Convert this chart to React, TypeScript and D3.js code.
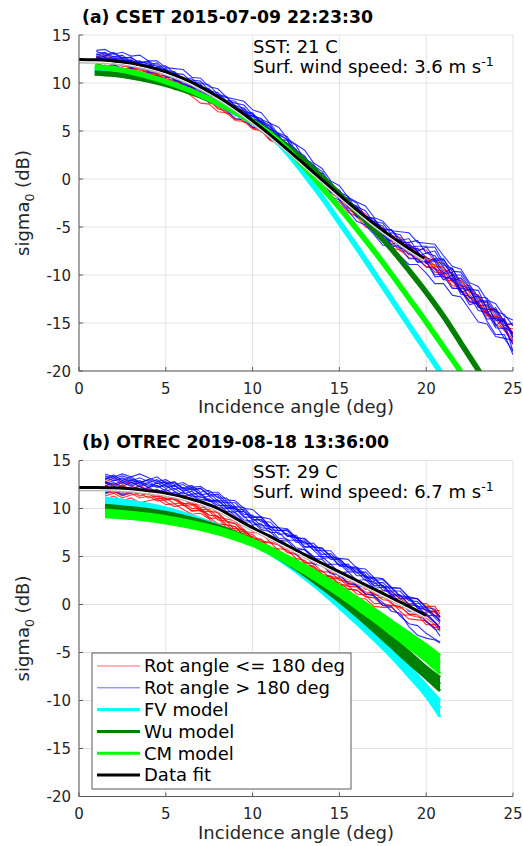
import React from 'react';
import * as d3 from 'd3';

// ---------- Panel (a) observations ----------
const ANGLE_A = [1,1.5,2,2.5,3,3.5,4,4.5,5,5.5,6,6.5,7,7.5,8,8.5,9,9.5,10,10.5,11,11.5,12,12.5,13,13.5,14,14.5,15,15.5,16,16.5,17,17.5,18,18.5,19,19.5,20,20.5,21,21.5,22,22.5,23,23.5,24,24.5,25];
const RED_A1 = [12.2,12.4,11.8,12.0,11.4,11.5,10.9,10.9,10.2,10.1,9.3,9.2,9.1,8.2,7.4,7.4,6.6,6.5,5.7,5.5,5.2,4.0,3.6,2.4,2.0,0.8,0.3,-0.9,-2.0,-2.3,-3.4,-4.5,-4.7,-5.7,-5.9,-7.0,-7.9,-7.9,-8.8,-8.9,-9.9,-11.1,-11.3,-11.6,-13.0,-14.2,-14.4,-15.5,-15.6];
const RED_A2 = [11.9,12.1,12.2,11.7,11.8,11.1,11.3,10.4,10.5,9.5,9.6,8.8,8.9,8.0,8.0,7.1,6.2,6.2,5.4,5.2,4.2,4.0,2.9,2.5,1.3,0.9,-0.3,-0.8,-1.3,-2.5,-3.0,-4.2,-5.3,-5.5,-6.5,-7.5,-7.5,-8.4,-8.4,-9.4,-10.5,-10.6,-11.8,-12.0,-13.3,-13.7,-15.2,-15.6,-17.2];
const RED_A3 = [12.5,12.0,12.4,11.9,12.0,11.3,11.5,10.7,10.8,9.9,9.8,9.6,8.7,8.5,7.6,6.8,6.8,5.9,5.9,4.9,4.6,3.5,3.0,1.7,1.2,0.6,-0.7,-1.3,-1.7,-2.9,-4.0,-4.4,-4.8,-5.9,-5.9,-6.1,-7.1,-7.3,-7.4,-8.6,-8.8,-10.0,-10.4,-11.8,-12.1,-13.5,-13.8,-15.0,-15.2];
const RED_A4 = [12.7,12.9,12.4,12.5,11.9,12.0,11.4,11.4,10.7,10.5,9.7,9.6,8.8,8.6,8.4,7.5,7.3,7.1,6.2,5.9,4.8,4.4,3.2,2.8,1.6,1.1,0.5,-0.8,-1.9,-2.3,-3.5,-4.0,-4.4,-5.5,-6.4,-6.6,-6.7,-7.7,-8.6,-8.3,-9.5,-9.8,-11.2,-11.1,-12.5,-12.9,-14.3,-14.7,-16.2];
const RED_A5 = [12.1,11.7,12.0,11.4,11.6,10.9,11.1,11.1,10.4,10.3,9.4,9.4,8.5,8.4,8.2,7.3,7.1,6.2,5.3,5.1,4.1,3.8,3.4,2.2,0.9,0.4,-0.2,-1.5,-2.0,-3.2,-3.6,-4.7,-5.0,-5.4,-6.5,-6.7,-7.5,-7.6,-8.7,-9.7,-9.8,-11.3,-11.5,-12.7,-12.8,-14.0,-14.3,-15.5,-16.8];
const RED_A6 = [11.8,11.4,11.7,11.3,10.8,11.0,10.5,10.6,10.0,9.3,9.3,8.6,7.9,7.8,7.0,6.9,6.1,6.0,5.2,5.0,4.0,3.7,2.6,2.1,0.9,0.4,-0.8,-2.0,-2.4,-3.5,-3.9,-5.0,-5.3,-6.3,-7.2,-7.4,-8.2,-8.3,-9.1,-9.2,-10.2,-10.4,-11.6,-12.8,-13.1,-14.3,-14.6,-15.8,-17.0];
const RED_A7 = [12.7,12.3,12.6,12.2,12.4,11.9,11.3,11.3,10.6,10.5,9.7,9.6,8.8,7.9,7.8,7.0,6.9,6.1,6.0,5.1,4.8,3.8,3.4,2.2,1.7,1.1,-0.2,-0.8,-2.0,-2.5,-3.0,-4.2,-4.6,-5.7,-6.0,-7.0,-7.2,-8.1,-8.1,-9.1,-9.2,-10.3,-10.6,-11.8,-12.1,-13.3,-13.6,-14.8,-16.0];
const RED_A8 = [12.3,12.5,11.9,12.1,11.5,11.6,11.0,11.0,10.3,10.2,10.0,9.2,9.1,8.2,7.3,7.1,7.0,6.2,6.1,5.8,4.8,4.5,3.4,2.9,1.7,1.2,0.0,-1.2,-1.6,-2.7,-3.1,-3.6,-4.7,-5.1,-6.1,-6.4,-7.3,-8.2,-8.3,-9.4,-9.6,-10.7,-11.1,-12.4,-12.8,-14.1,-14.5,-14.9,-16.3];
const BLUE_A1 = [12.9,13.1,12.5,12.7,12.1,12.2,11.6,11.6,11.5,10.7,10.6,9.6,9.6,9.4,8.5,7.6,7.7,6.9,6.8,5.9,4.7,4.7,4.1,2.7,2.2,0.6,0.2,-0.3,-1.6,-2.9,-2.9,-3.3,-4.6,-6.0,-5.6,-5.8,-7.1,-7.0,-7.0,-8.4,-9.8,-9.3,-10.8,-12.4,-12.2,-13.9,-13.4,-14.9,-16.2];
const BLUE_A2 = [12.7,12.4,12.8,12.3,12.3,11.6,11.8,11.9,11.0,10.9,9.9,10.0,9.9,8.9,8.0,8.1,7.2,7.3,6.1,6.0,5.6,4.2,3.7,3.1,1.4,1.0,0.5,-1.0,-1.4,-1.8,-3.3,-4.6,-4.6,-4.9,-6.4,-6.4,-6.2,-7.5,-8.8,-8.3,-8.3,-10.1,-11.8,-11.5,-11.6,-13.6,-15.3,-14.5,-16.5];
const BLUE_A3 = [13.0,12.7,12.4,12.6,12.7,12.0,11.6,11.0,11.2,11.1,10.3,10.2,9.3,8.5,8.7,8.5,7.5,6.7,6.6,6.3,5.1,4.0,3.7,2.6,2.1,1.6,0.1,-1.4,-1.7,-2.1,-3.5,-3.9,-4.1,-5.4,-6.8,-6.5,-7.5,-8.7,-8.6,-10.0,-9.9,-9.7,-11.6,-13.1,-12.8,-12.8,-15.1,-16.6,-16.8];
const BLUE_A4 = [12.6,12.8,13.1,12.5,12.0,12.1,12.2,11.4,10.6,10.6,10.5,10.5,9.6,9.3,8.4,8.2,8.1,7.1,6.3,5.3,5.2,4.8,4.4,2.9,1.6,1.3,0.0,-0.6,-2.1,-2.4,-2.8,-4.1,-5.4,-5.2,-5.3,-6.6,-6.6,-6.4,-7.7,-8.0,-9.2,-10.6,-10.3,-11.4,-13.4,-13.6,-13.6,-15.3,-15.0];
const BLUE_A5 = [12.8,12.5,12.1,12.4,12.4,11.8,11.3,11.4,11.4,10.4,9.8,9.9,9.1,9.0,8.8,7.8,6.9,7.0,6.9,5.8,4.8,4.6,3.2,2.0,1.7,1.1,-0.3,-0.8,-1.2,-2.6,-3.9,-4.0,-5.0,-6.3,-6.4,-6.3,-7.6,-8.6,-8.5,-10.2,-10.1,-11.4,-11.4,-11.5,-13.1,-14.6,-14.5,-14.8,-18.0];
const BLUE_A6 = [13.1,13.2,12.7,12.9,12.2,12.3,11.9,12.1,11.3,11.2,10.4,10.3,10.2,9.2,9.0,8.1,7.9,7.7,6.7,5.8,5.5,4.5,3.3,3.0,2.4,1.1,-0.2,-0.7,-1.2,-2.4,-3.0,-4.4,-4.4,-4.6,-5.8,-7.0,-6.8,-7.5,-7.1,-7.1,-8.7,-10.0,-10.0,-11.3,-12.7,-12.7,-14.0,-15.5,-16.0];
const BLUE_A7 = [12.4,12.6,12.0,12.2,11.6,11.9,11.1,11.2,11.2,10.3,10.2,9.4,9.4,8.6,7.8,7.7,7.5,6.4,6.2,6.1,5.0,3.9,3.6,3.0,1.6,0.4,-0.1,-1.3,-1.6,-3.0,-3.4,-3.8,-5.2,-5.6,-7.0,-7.1,-8.3,-8.3,-9.2,-9.3,-10.5,-10.0,-11.6,-12.8,-13.0,-14.8,-16.2,-16.2,-18.3];
const BLUE_A8 = [13.3,12.9,13.2,12.6,12.6,12.1,12.3,11.7,11.8,11.0,10.9,10.1,10.0,9.8,8.8,8.6,7.6,7.4,6.5,6.2,5.8,4.6,4.1,3.5,2.0,1.4,0.8,-0.5,-1.7,-2.0,-2.5,-3.9,-4.2,-5.3,-5.3,-6.3,-7.4,-7.2,-8.2,-8.5,-8.4,-9.6,-9.7,-11.0,-12.3,-12.4,-13.8,-14.1,-15.3];
const BLUE_A9 = [13.4,13.5,13.0,13.2,12.8,12.9,12.3,12.3,11.6,11.5,11.4,10.6,10.5,9.6,9.4,8.5,8.3,8.1,7.2,6.9,5.8,5.4,4.2,3.6,3.0,1.7,1.1,-0.2,-0.7,-1.9,-2.4,-2.8,-4.0,-4.4,-5.4,-5.5,-5.6,-6.6,-6.7,-6.8,-8.0,-9.1,-9.4,-10.8,-11.2,-12.6,-13.0,-14.3,-14.7];
const BLUE_A10 = [12.0,11.6,11.9,11.5,11.0,11.2,10.7,10.8,10.2,9.5,9.5,8.8,8.8,8.0,7.9,7.1,6.3,6.2,5.4,5.2,4.2,3.9,2.8,1.6,1.1,-0.1,-0.6,-1.8,-2.2,-3.3,-4.4,-4.8,-5.8,-6.9,-7.0,-8.0,-8.9,-8.9,-9.8,-10.9,-10.9,-12.1,-12.3,-13.6,-14.9,-15.1,-16.4,-16.6,-17.9];
const BLUE_A11 = [12.6,12.0,12.6,11.9,12.4,11.6,12.1,11.2,11.3,10.2,10.4,9.5,9.8,8.7,8.7,7.5,7.5,6.4,6.6,5.5,5.4,4.2,4.0,2.6,2.3,0.9,0.6,-0.8,-1.2,-2.5,-2.9,-4.3,-4.5,-5.8,-5.9,-7.3,-6.9,-8.1,-7.7,-7.5,-9.0,-9.3,-11.1,-11.4,-13.2,-13.1,-14.7,-14.8,-16.6];
const BLUE_A12 = [12.3,12.7,12.0,12.4,11.5,11.8,11.2,11.5,10.7,10.7,9.6,9.7,8.9,9.0,8.0,7.9,6.9,6.8,5.8,5.6,4.4,4.1,3.0,2.7,1.4,1.0,-0.4,-0.9,-2.2,-2.6,-3.9,-4.2,-5.5,-5.7,-6.9,-6.9,-7.8,-7.6,-8.7,-8.6,-10.2,-10.4,-12.0,-12.2,-13.7,-13.9,-15.5,-15.6,-17.2];

// ---------- Panel (a) models and fit ----------
const MODEL_A_ANGLE = [0.9,2,3,4,5,6,7,8,9,10,11,12,13,14,15,16,17,18,19,20,21,22,23,23.5];
const FV_A = [11.4,11.2,10.9,10.5,10.0,9.4,8.7,7.85,6.9,5.9,4.6,2.75,0.5,-1.9,-4.5,-7.1,-9.8,-12.5,-15.2,-17.9,-20.6,-23.3,-26.0,-27.4];
const WU_A = [11.05,10.9,10.65,10.3,9.85,9.3,8.65,7.9,7.0,6.0,4.8,3.4,1.9,0.2,-1.6,-3.4,-5.3,-7.3,-9.5,-11.8,-14.3,-17.1,-19.9,-21.3];
const CM_A = [11.7,11.5,11.15,10.7,10.15,9.5,8.75,7.9,7.0,5.95,4.7,3.1,1.2,-0.9,-3.0,-5.2,-7.5,-9.9,-12.4,-14.9,-17.5,-20.1,-22.8,-24.2];
const FIT_A_ANGLE = [0,1,2,3,4,5,6,7,8,9,10,11,12,13,14,15,16,17,18,19,19.9];
const FIT_A = [12.45,12.41,12.3,12.07,11.69,11.16,10.47,9.6,8.57,7.39,6.07,4.63,3.09,1.5,-0.1,-1.68,-3.21,-4.66,-6.0,-7.23,-8.26];

// ---------- Panel (b) observations ----------
const ANGLE_B = [1.5,2,2.5,3,3.5,4,4.5,5,5.5,6,6.5,7,7.5,8,8.5,9,9.5,10,10.5,11,11.5,12,12.5,13,13.5,14,14.5,15,15.5,16,16.5,17,17.5,18,18.5,19,19.5,20,20.5,20.8];
const RED_B1 = [11.9,11.6,11.9,11.6,11.9,11.5,11.0,11.1,10.5,10.6,10.0,10.0,9.3,9.2,8.3,8.1,7.2,7.1,6.2,6.1,5.1,5.1,4.1,4.0,3.1,3.0,2.9,2.0,1.9,1.8,1.1,1.0,0.9,0.1,-0.4,0.0,-0.8,-0.8,-0.8,-1.4];
const RED_B2 = [12.7,12.4,12.7,12.4,11.9,12.1,11.6,11.0,11.1,10.5,10.6,9.9,9.9,9.1,8.9,8.7,7.8,6.9,6.8,5.9,5.8,5.7,4.8,4.6,3.8,2.9,2.9,2.8,2.1,2.0,1.3,1.2,0.5,0.4,0.3,-0.2,-0.8,-1.7,-2.4,-2.3];
const RED_B3 = [11.3,11.6,11.1,11.4,11.6,11.1,11.3,10.7,10.2,10.4,9.7,9.8,9.0,9.0,8.0,7.9,7.8,6.8,6.8,5.8,5.7,4.8,4.7,3.6,3.6,2.6,2.6,1.6,1.6,1.5,0.8,0.7,-0.1,-0.1,-0.2,-1.0,-1.0,-1.1,-1.8,-2.5];
const RED_B4 = [12.3,12.6,12.2,11.8,12.0,11.5,11.7,11.8,11.2,11.3,10.7,10.1,10.2,9.5,8.6,8.4,7.5,7.3,6.5,6.4,6.2,5.4,5.2,4.3,4.3,4.1,3.3,3.1,2.3,2.1,2.0,1.1,1.0,0.9,0.9,0.1,0.1,0.1,-0.7,-0.6];
const RED_B5 = [11.7,12.0,11.5,11.9,11.3,11.6,11.2,11.4,10.9,10.3,10.4,9.7,9.7,8.8,8.7,7.7,7.6,6.6,6.5,5.5,5.4,4.5,4.4,4.3,3.5,3.5,2.7,2.7,1.9,1.9,1.1,1.1,1.1,0.2,-0.7,-1.5,-1.6,-1.7,-2.6,-2.6];
const RED_B6 = [12.8,13.1,12.5,12.8,12.3,11.9,11.5,10.9,11.0,10.4,9.8,9.8,9.1,8.4,8.3,7.5,7.4,6.6,6.6,6.5,5.6,4.9,4.8,4.0,4.0,3.2,2.4,2.3,1.6,1.5,0.8,0.7,0.7,0.6,0.6,0.0,-0.2,-0.6,-0.7,-1.7];
const RED_B7 = [11.0,11.3,10.8,11.1,10.6,10.8,11.0,10.4,10.5,9.9,9.4,9.5,8.9,8.1,8.0,7.2,7.1,6.3,5.6,5.5,4.7,4.7,3.9,3.8,3.1,2.2,2.2,1.4,1.4,0.6,0.6,-0.2,-0.3,-0.3,-1.1,-1.1,-1.3,-1.4,-2.1,-2.0];
const RED_B8 = [12.4,12.0,12.4,12.0,12.4,11.9,11.4,11.5,10.9,11.0,10.4,10.4,9.7,9.6,8.7,8.5,7.6,7.5,7.4,6.5,6.3,5.5,5.3,4.4,4.3,3.4,3.4,2.5,2.4,2.3,1.6,1.5,1.4,1.3,0.6,0.6,0.6,-0.2,-0.2,-1.0];
const RED_B9 = [11.5,11.8,11.3,11.6,11.1,11.3,10.8,10.9,11.1,10.5,10.6,9.9,9.3,9.2,8.3,8.1,7.2,7.0,6.2,6.0,5.1,5.1,4.1,4.0,4.0,3.1,3.0,2.1,2.0,1.1,1.0,0.1,0.1,-0.1,-0.2,-1.0,-1.1,-2.1,-2.1,-2.8];
const BLUE_B1 = [13.0,13.3,12.7,13.0,12.5,12.7,13.0,12.3,12.4,11.8,12.1,11.4,11.6,10.8,10.8,9.9,9.9,9.0,8.2,8.2,7.3,7.4,6.5,6.5,5.7,4.8,4.9,4.8,3.9,3.8,2.9,2.8,1.9,1.8,0.9,0.8,-0.2,-0.3,-1.2,-1.2];
const BLUE_B2 = [12.6,12.9,13.1,12.7,12.9,12.4,12.6,12.7,12.0,12.2,11.5,11.6,10.8,10.8,10.0,10.0,9.1,9.1,9.1,8.1,8.0,7.1,7.0,6.0,6.0,5.9,5.0,4.1,4.2,3.3,3.4,2.5,2.6,1.7,1.7,0.7,0.6,-0.4,-1.2,-1.7];
const BLUE_B3 = [12.8,12.5,12.9,12.5,12.7,12.2,12.4,11.8,12.1,11.5,11.8,11.1,11.3,10.5,9.7,9.6,8.8,8.7,8.0,7.9,6.9,6.8,5.9,5.7,4.8,4.7,3.8,2.9,2.9,1.9,1.9,0.9,0.2,-0.7,-0.9,-2.3,-3.2,-3.5,-3.7,-4.0];
const BLUE_B4 = [11.6,11.9,11.4,11.7,11.9,12.2,11.7,12.0,11.4,11.7,11.2,11.3,10.7,10.7,10.6,9.7,9.7,8.8,8.8,7.8,7.7,7.7,6.7,6.6,5.7,5.6,5.6,4.6,3.8,3.7,2.8,2.7,1.8,1.7,0.8,0.7,-0.4,-0.5,-1.4,-1.9];
const BLUE_B5 = [13.2,12.9,13.2,12.9,13.2,12.8,12.3,12.5,12.7,12.0,12.2,11.5,10.8,10.9,10.1,10.1,9.2,8.3,8.4,7.5,7.5,6.7,6.7,5.8,5.0,5.0,4.2,4.2,3.4,2.5,2.6,1.7,1.8,0.9,0.1,-0.1,-0.8,-0.9,-1.8,-2.4];
const BLUE_B6 = [12.4,12.7,12.3,12.7,12.3,12.6,12.2,12.4,11.8,11.3,11.5,10.9,11.0,10.3,10.3,9.5,8.6,8.6,7.8,7.6,6.7,6.6,5.7,5.7,5.0,4.1,4.2,3.3,3.4,3.4,2.5,2.4,1.5,1.4,1.4,0.4,0.3,-0.7,-0.7,-1.3];
const BLUE_B7 = [13.4,13.1,13.4,13.1,12.7,13.0,12.6,12.8,12.3,12.5,11.9,12.1,11.4,11.5,10.6,10.6,9.7,8.8,8.9,8.0,8.0,7.2,7.2,6.3,6.4,5.5,4.7,4.7,3.9,3.9,3.1,2.2,2.3,1.4,0.6,0.6,-0.3,-1.2,-1.1,-1.7];
const BLUE_B8 = [13.6,13.3,13.6,13.3,13.6,13.2,12.8,13.0,12.5,12.7,12.2,12.3,11.7,11.7,10.9,10.8,10.0,9.9,9.1,8.9,8.0,7.9,7.0,6.8,6.0,5.8,5.0,4.8,4.7,3.8,3.7,2.8,2.7,1.8,1.7,0.8,0.6,-0.3,-0.5,-1.3];
const BLUE_B9 = [13.1,13.5,12.9,13.3,12.7,13.0,13.3,12.6,12.8,12.1,12.4,11.7,11.9,11.1,11.1,10.2,9.4,9.3,8.6,8.6,7.7,7.8,6.9,6.9,6.1,5.2,5.3,4.4,3.6,3.6,2.8,1.9,2.0,1.1,0.2,-0.7,-0.8,-1.8,-2.5,-3.3];
const BLUE_B10 = [12.7,12.3,12.7,12.3,12.7,12.2,12.7,12.1,12.4,11.8,12.0,12.1,11.3,11.3,10.3,10.2,10.1,9.1,9.1,8.1,8.0,7.1,7.0,6.0,6.0,5.0,5.0,4.0,4.0,3.0,3.0,2.0,2.0,1.0,1.0,0.0,-0.1,-1.1,-1.9,-2.6];
const BLUE_B11 = [11.9,12.2,11.7,12.0,12.3,11.8,12.0,11.4,11.7,11.2,11.4,10.7,10.9,10.1,10.0,9.2,8.3,8.2,7.3,7.2,6.2,6.2,5.2,5.1,4.2,4.1,3.2,3.1,2.2,2.0,1.1,0.9,-0.1,-0.2,-1.2,-2.0,-2.2,-3.0,-3.6,-3.9];

// ---------- Panel (b) models (bands) and fit ----------
const MODEL_B_ANGLE = [1.5,3,5,7,9,10,11,12,13,14,15,16,17,18,19,20,20.8];
const FV_B_HI = [11.1,10.75,10.05,8.95,7.5,6.55,5.55,4.45,3.2,1.85,0.35,-1.2,-2.9,-4.6,-6.4,-8.4,-10.0];
const FV_B_MID = [10.8,10.45,9.75,8.7,7.3,6.4,5.4,4.25,2.95,1.55,0.0,-1.6,-3.3,-5.0,-6.9,-9.0,-10.8];
const FV_B_LO = [10.45,10.15,9.5,8.5,7.15,6.3,5.25,4.05,2.7,1.25,-0.35,-2.0,-3.7,-5.5,-7.5,-9.6,-11.7];
const WU_B_HI = [10.35,10.1,9.6,8.75,7.55,6.75,5.85,4.8,3.7,2.45,1.1,-0.3,-1.8,-3.35,-4.9,-6.5,-7.6];
const WU_B_MID = [10.15,9.95,9.45,8.6,7.35,6.55,5.6,4.55,3.4,2.1,0.7,-0.75,-2.3,-3.9,-5.5,-7.1,-8.3];
const WU_B_LO = [9.95,9.75,9.25,8.4,7.15,6.35,5.35,4.25,3.05,1.7,0.3,-1.2,-2.8,-4.45,-6.1,-7.7,-9.0];
const CM_B_HI = [9.85,9.6,9.15,8.45,7.45,6.75,5.95,5.05,4.1,3.05,1.95,0.75,-0.45,-1.7,-2.95,-4.2,-5.3];
const CM_B_MID = [9.5,9.3,8.85,8.15,7.1,6.4,5.6,4.65,3.65,2.55,1.4,0.15,-1.1,-2.4,-3.7,-5.0,-6.1];
const CM_B_LO = [9.15,8.95,8.5,7.8,6.8,6.15,5.3,4.3,3.25,2.1,0.9,-0.4,-1.7,-3.1,-4.5,-5.9,-7.2];
const FIT_B_ANGLE = [0,1,2,3,4,5,6,7,8,9,10,11,12,13,14,15,16,17,18,19,20];
const FIT_B = [12.2,12.2,12.15,12.05,11.85,11.6,11.2,10.7,10.0,9.0,8.0,7.1,6.15,5.2,4.3,3.4,2.5,1.6,0.7,-0.2,-1.15];

// ---------- Axis ticks and labels ----------
const X_TICKS = [0, 5, 10, 15, 20, 25];
const Y_TICKS = [-20, -15, -10, -5, 0, 5, 10, 15];
const LEGEND_LABELS = ['Rot angle <= 180 deg', 'Rot angle > 180 deg', 'FV model', 'Wu model', 'CM model', 'Data fit'];

const RED = '#ff0000';
const BLUE = '#0000ff';
const CYAN = '#00ffff';
const DKGREEN = '#008000';
const GREEN = '#00ff00';
const FONT = 'DejaVu Sans, Verdana, sans-serif';

type Series = { ang: number[]; val: number[] };
type Model = { color: string; width: number; s: Series[]; band?: boolean };

function Panel(props: {
  id: string;
  top: number;
  title: string;
  sst: string;
  wind: string;
  red: number[][];
  blue: number[][];
  obsAngle: number[];
  models: Model[];
  fit: Series;
  legend?: boolean;
}) {
  const { id, top } = props;
  const left = 79, right = 513, bottom = top + 336;
  const x = d3.scaleLinear().domain([0, 25]).range([left, right]);
  const y = d3.scaleLinear().domain([-20, 15]).range([bottom, top]);
  const pts = (ang: number[], val: number[]) =>
    ang.map((a, i) => [a, val[i]] as [number, number]).filter((p) => p[1] !== undefined);
  const lin = d3.line<[number, number]>().x((d) => x(d[0])).y((d) => y(d[1]));
  const smooth = d3.line<[number, number]>().x((d) => x(d[0])).y((d) => y(d[1])).curve(d3.curveMonotoneX);
  const bandArea = d3
    .area<[number, number, number]>()
    .x((d) => x(d[0]))
    .y0((d) => y(d[1]))
    .y1((d) => y(d[2]))
    .curve(d3.curveMonotoneX);
  const fitPath = smooth(pts(props.fit.ang, props.fit.val)) || '';

  return (
    <g>
      <defs>
        <clipPath id={id}>
          <rect x={left} y={top} width={right - left} height={bottom - top} />
        </clipPath>
      </defs>
      {X_TICKS.map((t) => (
        <line key={'gx' + t} x1={x(t)} x2={x(t)} y1={top} y2={bottom} stroke="#e3e3e3" strokeWidth={1} />
      ))}
      {Y_TICKS.map((t) => (
        <line key={'gy' + t} x1={left} x2={right} y1={y(t)} y2={y(t)} stroke="#e3e3e3" strokeWidth={1} />
      ))}
      <g clipPath={`url(#${id})`}>
        {props.red.map((s, i) => (
          <path key={'r' + i} d={lin(pts(props.obsAngle, s)) || ''} fill="none" stroke={RED} strokeOpacity={0.8} strokeWidth={1.1} />
        ))}
        {props.blue.map((s, i) => (
          <path key={'b' + i} d={lin(pts(props.obsAngle, s)) || ''} fill="none" stroke={BLUE} strokeOpacity={0.8} strokeWidth={1.1} />
        ))}
        {props.models.map((m, j) => {
          const hi = m.s[0];
          const lo = m.s[m.s.length - 1];
          return (
            <g key={'m' + j}>
              {m.band && (
                <path
                  d={bandArea(hi.ang.map((a, i) => [a, lo.val[i], hi.val[i]] as [number, number, number])) || ''}
                  fill={m.color}
                  stroke="none"
                />
              )}
              {m.s.map((s, i) => (
                <path key={i} d={smooth(pts(s.ang, s.val)) || ''} fill="none" stroke={m.color} strokeWidth={m.width} />
              ))}
            </g>
          );
        })}
        <path d={fitPath} transform="translate(0,3.2)" fill="none" stroke="#b5b5b5" strokeWidth={1.4} />
        <path d={fitPath} transform="translate(0,1.8)" fill="none" stroke="#ffffff" strokeWidth={1.6} />
        <path d={fitPath} fill="none" stroke="#000" strokeWidth={3} />
      </g>
      <line x1={left} x2={left} y1={top} y2={bottom + 0.5} stroke="#5a5a5a" strokeWidth={1} />
      <line x1={left} x2={right} y1={bottom} y2={bottom} stroke="#5a5a5a" strokeWidth={1} />
      {X_TICKS.map((t) => (
        <g key={'tx' + t}>
          <line x1={x(t)} x2={x(t)} y1={bottom} y2={bottom - 4} stroke="#5a5a5a" />
          <text x={x(t)} y={bottom + 22.5} textAnchor="middle" fontSize={15} fill="#262626" fontFamily={FONT}>
            {t}
          </text>
        </g>
      ))}
      {Y_TICKS.map((t) => (
        <g key={'ty' + t}>
          <line x1={left} x2={left + 4} y1={y(t)} y2={y(t)} stroke="#5a5a5a" />
          <text x={71} y={y(t) + 5.5} textAnchor="end" fontSize={15} fill="#262626" fontFamily={FONT}>
            {t}
          </text>
        </g>
      ))}
      <text x={(left + right) / 2} y={bottom + 42} textAnchor="middle" fontSize={18} fill="#262626" fontFamily={FONT}>
        Incidence angle (deg)
      </text>
      <text transform={`translate(29,${(top + bottom) / 2}) rotate(-90)`} textAnchor="middle" fontSize={18} fill="#262626" fontFamily={FONT}>
        sigma<tspan fontSize={12.5} dy={5}>0</tspan>
        <tspan dy={-5}> (dB)</tspan>
      </text>
      <text x={82} y={top - 12.5} fontSize={17.3} fontWeight="bold" fill="#000" fontFamily={FONT}>
        {props.title}
      </text>
      <text x={253} y={top + 17.5} fontSize={18} fill="#000" fontFamily={FONT}>
        {props.sst}
      </text>
      <text x={253} y={top + 37.5} fontSize={18} fill="#000" fontFamily={FONT}>
        {props.wind}
        <tspan fontSize={12.5} dy={-7}>-1</tspan>
      </text>
      {props.legend && (
        <g>
          <rect x={92} y={653} width={259} height={136} fill="#fff" stroke="#5a5a5a" strokeWidth={1} />
          {LEGEND_LABELS.map((lab, i) => {
            const cy = 666 + i * 21.8;
            const col = [RED, BLUE, CYAN, DKGREEN, GREEN, '#000'][i];
            const w = i < 2 ? 1 : 3;
            const op = i < 2 ? 0.6 : 1;
            return (
              <g key={lab}>
                <line x1={97} x2={140} y1={cy} y2={cy} stroke={col} strokeWidth={w} strokeOpacity={op} />
                <text x={144} y={cy + 6.3} fontSize={18} fill="#000" fontFamily={FONT}>
                  {lab}
                </text>
              </g>
            );
          })}
        </g>
      )}
    </g>
  );
}

export default function App() {
  const modelsA: Model[] = [
    { color: CYAN, width: 5.5, s: [{ ang: MODEL_A_ANGLE, val: FV_A }] },
    { color: DKGREEN, width: 5.5, s: [{ ang: MODEL_A_ANGLE, val: WU_A }] },
    { color: GREEN, width: 5.5, s: [{ ang: MODEL_A_ANGLE, val: CM_A }] },
  ];
  const modelsB: Model[] = [
    { color: CYAN, width: 3, band: true, s: [FV_B_HI, FV_B_MID, FV_B_LO].map((v) => ({ ang: MODEL_B_ANGLE, val: v })) },
    { color: DKGREEN, width: 3, band: true, s: [WU_B_HI, WU_B_MID, WU_B_LO].map((v) => ({ ang: MODEL_B_ANGLE, val: v })) },
    { color: GREEN, width: 3, band: true, s: [CM_B_HI, CM_B_MID, CM_B_LO].map((v) => ({ ang: MODEL_B_ANGLE, val: v })) },
  ];
  return (
    <svg width={523} height={846} style={{ position: 'absolute', left: 0, top: 0, background: '#fff' }}>
      <rect x={0} y={0} width={523} height={846} fill="#fff" />
      <Panel
        id="clipA"
        top={35}
        title="(a) CSET 2015-07-09 22:23:30"
        sst="SST: 21 C"
        wind="Surf. wind speed: 3.6 m s"
        red={[RED_A1, RED_A2, RED_A3, RED_A4, RED_A5, RED_A6, RED_A7, RED_A8]}
        blue={[BLUE_A1, BLUE_A2, BLUE_A3, BLUE_A4, BLUE_A5, BLUE_A6, BLUE_A7, BLUE_A8, BLUE_A9, BLUE_A10, BLUE_A11, BLUE_A12]}
        obsAngle={ANGLE_A}
        models={modelsA}
        fit={{ ang: FIT_A_ANGLE, val: FIT_A }}
      />
      <Panel
        id="clipB"
        top={460.5}
        title="(b) OTREC 2019-08-18 13:36:00"
        sst="SST: 29 C"
        wind="Surf. wind speed: 6.7 m s"
        red={[RED_B1, RED_B2, RED_B3, RED_B4, RED_B5, RED_B6, RED_B7, RED_B8, RED_B9]}
        blue={[BLUE_B1, BLUE_B2, BLUE_B3, BLUE_B4, BLUE_B5, BLUE_B6, BLUE_B7, BLUE_B8, BLUE_B9, BLUE_B10, BLUE_B11]}
        obsAngle={ANGLE_B}
        models={modelsB}
        fit={{ ang: FIT_B_ANGLE, val: FIT_B }}
        legend
      />
    </svg>
  );
}
